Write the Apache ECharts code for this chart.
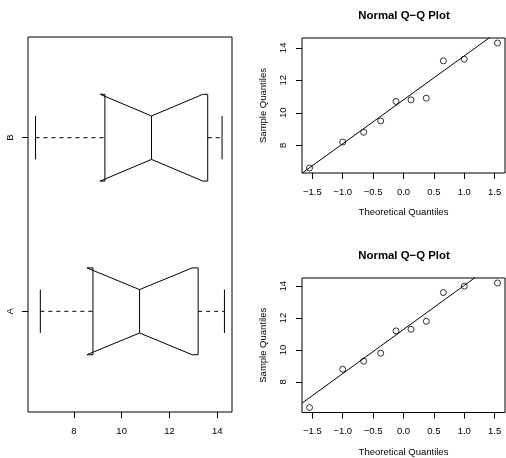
<!DOCTYPE html>
<html>
<head>
<meta charset="utf-8">
<script src="https://cdn.jsdelivr.net/npm/echarts@6/dist/echarts.min.js"></script>
<style>
html,body{margin:0;padding:0;background:#fff;}
#chart{width:506px;height:458px;}
</style>
</head>
<body>
<div id="chart"></div>
<script>
// ---- data ----
const categories = ['A', 'B'];
const theoreticalQ = [-1.547, -1.000, -0.656, -0.375, -0.123, 0.123, 0.375, 0.656, 1.000, 1.547];
const sampleA = [6.6, 8.2, 8.8, 9.5, 10.7, 10.8, 10.9, 13.2, 13.3, 14.3];
const sampleB = [6.4, 8.8, 9.3, 9.8, 11.2, 11.3, 11.8, 13.6, 14.0, 14.2];
// box stats: [min, lower hinge, median, upper hinge, max]
const boxA = [6.6, 8.8, 10.75, 13.2, 14.3];
const boxB = [6.4, 9.3, 11.25, 13.6, 14.2];
// notch limits: [low, high]
const notchA = [8.55, 12.95];
const notchB = [9.10, 13.40];
const boxTicks = [8, 10, 12, 14];
const qqXTicks = [-1.5, -1.0, -0.5, 0.0, 0.5, 1.0, 1.5];
const qqYTicks = [8, 10, 12, 14];

// ---- helpers ----
function ext(arr) {
  const lo = Math.min(...arr), hi = Math.max(...arr), r = hi - lo;
  return [lo - 0.04 * r, hi + 0.04 * r];
}
function q7(arr, p) {
  const s = arr.slice().sort((a, b) => a - b);
  const h = (s.length - 1) * p, i = Math.floor(h);
  return s[i] + (h - i) * ((s[Math.min(i + 1, s.length - 1)]) - s[i]);
}
function qqline(arr, xr) {
  const z = 0.6744898;
  const y1 = q7(arr, 0.25), y2 = q7(arr, 0.75);
  const slope = (y2 - y1) / (2 * z);
  const int = y1 + slope * z;
  return xr.map(x => [x, int + slope * x]);
}
const fmtNum = v => {
  const s = Math.abs(v).toFixed(1);
  return (v < -1e-9 ? '\u2212' : '') + s;
};

const FONT = 'Liberation Sans';
const txt = { color: '#000', fontFamily: FONT, fontSize: 9.5 };

const boxX = ext(sampleA.concat(sampleB));
const qqX = ext(theoreticalQ);
const qqYA = ext(sampleA);
const qqYB = ext(sampleB);

const boxData = [
  [1].concat(boxA, notchA),
  [2].concat(boxB, notchB)
];

const noLine = { show: false, onZero: false };

function qqXAxis(gi) {
  return {
    type: 'value', gridIndex: gi, min: qqX[0], max: qqX[1],
    name: 'Theoretical Quantiles', nameLocation: 'middle', nameGap: 34.5,
    nameTextStyle: txt,
    axisLine: noLine,
    axisTick: { show: true, length: 6, customValues: qqXTicks, lineStyle: { color: '#000', width: 1 } },
    axisLabel: Object.assign({ margin: 14, customValues: qqXTicks, formatter: fmtNum }, txt),
    splitLine: { show: false }
  };
}
function qqYAxis(gi, r) {
  return {
    type: 'value', gridIndex: gi, min: r[0], max: r[1],
    name: 'Sample Quantiles', nameLocation: 'middle', nameGap: 34,
    nameTextStyle: txt,
    axisLine: noLine,
    axisTick: { show: true, length: 6, customValues: qqYTicks, lineStyle: { color: '#000', width: 1 } },
    axisLabel: Object.assign({ margin: 13.5, rotate: 90, customValues: qqYTicks, formatter: v => String(v) }, txt),
    splitLine: { show: false }
  };
}

const gridBorder = { show: true, borderColor: '#000', borderWidth: 1, backgroundColor: 'transparent' };

const option = {
  animation: false,
  backgroundColor: '#fff',
  title: [
    { text: 'Normal Q\u2212Q Plot', left: 404, top: 10, textAlign: 'center', padding: 0,
      textStyle: { color: '#000', fontFamily: FONT, fontSize: 11.4, fontWeight: 'bold' } },
    { text: 'Normal Q\u2212Q Plot', left: 404, top: 250, textAlign: 'center', padding: 0,
      textStyle: { color: '#000', fontFamily: FONT, fontSize: 11.4, fontWeight: 'bold' } }
  ],
  grid: [
    Object.assign({ left: 28, top: 37, width: 204, height: 375 }, gridBorder),
    Object.assign({ left: 302, top: 38, width: 203, height: 135 }, gridBorder),
    Object.assign({ left: 302, top: 278, width: 203, height: 135 }, gridBorder)
  ],
  xAxis: [
    {
      type: 'value', gridIndex: 0, min: boxX[0], max: boxX[1],
      axisLine: noLine,
      axisTick: { show: true, length: 6, customValues: boxTicks, lineStyle: { color: '#000', width: 1 } },
      axisLabel: Object.assign({ margin: 14, customValues: boxTicks, formatter: v => String(v) }, txt),
      splitLine: { show: false }
    },
    qqXAxis(1),
    qqXAxis(2)
  ],
  yAxis: [
    {
      type: 'value', gridIndex: 0, min: 0.42, max: 2.58,
      axisLine: noLine,
      axisTick: { show: true, length: 6, customValues: [1, 2], lineStyle: { color: '#000', width: 1 } },
      axisLabel: Object.assign({ margin: 12.5, rotate: 90, customValues: [1, 2],
        formatter: v => categories[Math.round(v) - 1] }, txt),
      splitLine: { show: false }
    },
    qqYAxis(1, qqYA),
    qqYAxis(2, qqYB)
  ],
  series: [
    {
      type: 'custom', xAxisIndex: 0, yAxisIndex: 0, data: boxData,
      encode: { x: [1, 2, 3, 4, 5, 6, 7], y: 0 },
      renderItem: function (params, api) {
        const c = api.value(0);
        const lo = api.value(1), q1 = api.value(2), med = api.value(3), q3 = api.value(4), hi = api.value(5);
        const nlo = api.value(6), nhi = api.value(7);
        const w = 0.25, nf = 0.5, sw = 0.125;
        const P = (v, off) => api.coord([v, c + off]);
        const st = { stroke: '#000', lineWidth: 1, fill: null };
        const dash = { stroke: '#000', lineWidth: 1, lineDash: [4, 4], fill: null };
        const seg = (a, b, style) => ({ type: 'line', shape: { x1: a[0], y1: a[1], x2: b[0], y2: b[1] }, style: style });
        return {
          type: 'group',
          children: [
            { type: 'polygon', shape: { points: [P(q1, -w), P(q1, w), P(nlo, w), P(med, w * nf), P(nhi, w), P(q3, w), P(q3, -w), P(nhi, -w), P(med, -w * nf), P(nlo, -w)] }, style: st },
            seg(P(med, -w * nf), P(med, w * nf), st),
            seg(P(lo, 0), P(q1, 0), dash),
            seg(P(q3, 0), P(hi, 0), dash),
            seg(P(lo, -sw), P(lo, sw), st),
            seg(P(hi, -sw), P(hi, sw), st)
          ]
        };
      }
    },
    {
      type: 'scatter', xAxisIndex: 1, yAxisIndex: 1,
      data: theoreticalQ.map((x, i) => [x, sampleA[i]]),
      symbol: 'circle', symbolSize: 6,
      itemStyle: { color: 'rgba(0,0,0,0)', borderColor: '#000', borderWidth: 1 }
    },
    {
      type: 'line', xAxisIndex: 1, yAxisIndex: 1, clip: true,
      data: qqline(sampleA, qqX), showSymbol: false, symbol: 'none',
      lineStyle: { color: '#000', width: 1 }
    },
    {
      type: 'scatter', xAxisIndex: 2, yAxisIndex: 2,
      data: theoreticalQ.map((x, i) => [x, sampleB[i]]),
      symbol: 'circle', symbolSize: 6,
      itemStyle: { color: 'rgba(0,0,0,0)', borderColor: '#000', borderWidth: 1 }
    },
    {
      type: 'line', xAxisIndex: 2, yAxisIndex: 2, clip: true,
      data: qqline(sampleB, qqX), showSymbol: false, symbol: 'none',
      lineStyle: { color: '#000', width: 1 }
    }
  ]
};

const chart = echarts.init(document.getElementById('chart'), null, { renderer: 'canvas' });
chart.setOption(option);
</script>
</body>
</html>
